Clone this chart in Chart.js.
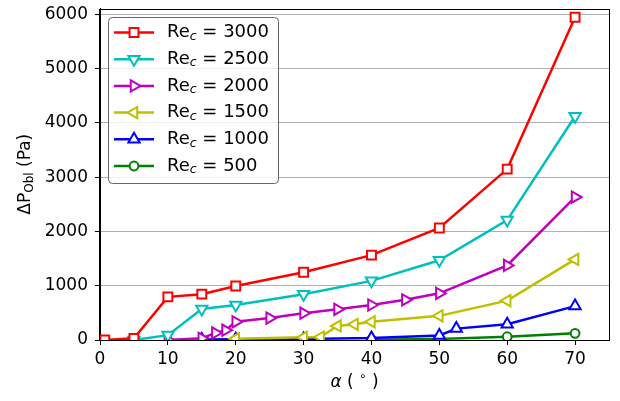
<!DOCTYPE html>
<html lang="en">
  <head>
    <meta charset="UTF-8" />
    <title>Pressure drop vs angle</title>
    <script src="https://cdn.jsdelivr.net/npm/chart.js"></script>
    <style>
      html, body { margin: 0; padding: 0; background: #fff; }
      #wrap { width: 620px; height: 401px; position: relative; }
    </style>
  </head>
  <body>
    <div id="wrap"><canvas id="dpChart"></canvas></div>
    <script>
      // values (alpha in degrees, dP in Pa)
      const alpha3000 = [0.7, 5, 10, 15, 20, 30, 40, 50, 60, 70];
      const dp3000 = [0, 30, 795, 845, 995, 1250, 1565, 2065, 3150, 5950];
      const alpha2500 = [5, 10, 15, 20, 30, 40, 50, 60, 70];
      const dp2500 = [0, 90, 570, 645, 845, 1090, 1470, 2210, 4125];
      const alpha2000 = [10, 15, 17, 18.5, 20, 25, 30, 35, 40, 45, 50, 60, 70];
      const dp2000 = [0, 30, 130, 180, 335, 405, 495, 565, 645, 740, 860, 1375, 2635];
      const alpha1500 = [20, 30, 32.5, 35, 37.5, 40, 50, 60, 70];
      const dp1500 = [25, 50, 55, 260, 290, 335, 445, 725, 1485];
      const alpha1000 = [15, 20, 30, 40, 50, 52.5, 60, 70];
      const dp1000 = [10, 15, 20, 35, 85, 210, 290, 625];
      const alpha500 = [40, 50, 60, 70];
      const dp500 = [5, 20, 60, 123];

      const reLabels = ["3000", "2500", "2000", "1500", "1000", "500"];
      const xTicks = [0, 10, 20, 30, 40, 50, 60, 70];
      const yTicks = [0, 1000, 2000, 3000, 4000, 5000, 6000];

      const FONT = "'DejaVu Sans', sans-serif";
      const colors = ["#ff0000", "#00bfbf", "#bf00bf", "#bfbf00", "#0000ff", "#008000"];
      const markers = [
        { style: "rect", rot: 0, r: 6.3 },
        { style: "triangle", rot: 180, r: 6.5 },
        { style: "triangle", rot: 90, r: 6.5 },
        { style: "triangle", rot: 270, r: 6.5 },
        { style: "triangle", rot: 0, r: 6.5 },
        { style: "circle", rot: 0, r: 4.4 },
      ];
      const xs = [alpha3000, alpha2500, alpha2000, alpha1500, alpha1000, alpha500];
      const ys = [dp3000, dp2500, dp2000, dp1500, dp1000, dp500];

      const datasets = reLabels.map((lab, i) => ({
        label: "Re_c = " + lab,
        data: xs[i].map((a, k) => ({ x: a, y: ys[i][k] })),
        borderColor: colors[i],
        borderWidth: 2.5,
        pointStyle: markers[i].style,
        pointRotation: markers[i].rot,
        pointRadius: markers[i].r,
        pointBorderWidth: 2,
        pointBackgroundColor: "#ffffff",
        pointBorderColor: colors[i],
        tension: 0,
        fill: false,
      }));

      function drawMarker(ctx, m, x, y, color) {
        ctx.beginPath();
        if (m.style === "rect") {
          const s = m.r * Math.SQRT1_2;
          ctx.rect(x - s, y - s, 2 * s, 2 * s);
        } else if (m.style === "circle") {
          ctx.arc(x, y, m.r, 0, Math.PI * 2);
        } else {
          let rad = (m.rot * Math.PI) / 180;
          for (let k = 0; k < 3; k++) {
            const px = x + Math.sin(rad) * m.r;
            const py = y - Math.cos(rad) * m.r;
            if (k === 0) ctx.moveTo(px, py);
            else ctx.lineTo(px, py);
            rad += (2 * Math.PI) / 3;
          }
        }
        ctx.closePath();
        ctx.fillStyle = "#fff";
        ctx.fill();
        ctx.lineWidth = 2;
        ctx.strokeStyle = color;
        ctx.stroke();
      }

      // draw runs of [text, font, dy] left to right
      function drawRuns(ctx, runs, x, y) {
        runs.forEach((r) => {
          ctx.font = r[1];
          ctx.fillText(r[0], x, y + (r[2] || 0));
          x += ctx.measureText(r[0]).width;
        });
        return x;
      }
      function runsWidth(ctx, runs) {
        let w = 0;
        runs.forEach((r) => {
          ctx.font = r[1];
          w += ctx.measureText(r[0]).width;
        });
        return w;
      }

      const extras = {
        id: "extras",
        afterDraw(chart) {
          const ctx = chart.ctx;
          const a = chart.chartArea;
          ctx.save();
          // axes frame
          ctx.strokeStyle = "#000";
          ctx.lineWidth = 1;
          const l = Math.round(a.left) - 0.5, t = Math.round(a.top) + 0.5;
          const r = Math.round(a.right) + 0.5, b = Math.round(a.bottom) + 0.5;
          ctx.strokeRect(l, t, r - l, b - t);

          // legend box
          ctx.beginPath();
          ctx.roundRect(108.5, 17.5, 170, 166, 4);
          ctx.fillStyle = "rgba(255,255,255,0.8)";
          ctx.fill();
          ctx.strokeStyle = "#666";
          ctx.stroke();
          ctx.textBaseline = "middle";
          reLabels.forEach((lab, i) => {
            const y = 32.5 + i * 26.7;
            ctx.beginPath();
            ctx.moveTo(114, y);
            ctx.lineTo(154, y);
            ctx.strokeStyle = colors[i];
            ctx.lineWidth = 2.5;
            ctx.stroke();
            drawMarker(ctx, markers[i], 134, y, colors[i]);
            ctx.fillStyle = "#000";
            drawRuns(ctx, [
              ["Re", "18px " + FONT],
              ["c", "italic 12.5px " + FONT, 4],
              [" = " + lab, "18px " + FONT],
            ], 167, y);
          });

          // x axis title
          ctx.fillStyle = "#000";
          const xr = [
            ["α", "italic 17px " + FONT],
            [" ( ", "17px " + FONT],
            ["∘", "12px " + FONT, -6],
            [" )", "17px " + FONT],
          ];
          drawRuns(ctx, xr, (a.left + a.right) / 2 - runsWidth(ctx, xr) / 2, 383);

          // y axis title
          const yr = [
            ["ΔP", "17px " + FONT],
            ["Obl", "12px " + FONT, 4],
            [" (Pa)", "17px " + FONT],
          ];
          ctx.translate(26, (a.top + a.bottom) / 2);
          ctx.rotate(-Math.PI / 2);
          drawRuns(ctx, yr, -runsWidth(ctx, yr) / 2, 0);
          ctx.restore();
        },
      };

      new Chart(document.getElementById("dpChart"), {
        type: "line",
        data: { datasets: datasets },
        options: {
          responsive: true,
          maintainAspectRatio: false,
          animation: false,
          layout: { padding: { left: 0, right: 11, top: 8, bottom: 0 } },
          plugins: { legend: { display: false }, tooltip: { enabled: false } },
          scales: {
            x: {
              type: "linear",
              min: 0,
              max: 75,
              afterBuildTicks: (s) => { s.ticks = xTicks.map((v) => ({ value: v })); },
              afterFit: (s) => { s.height = 61; s.paddingLeft = 0; s.paddingRight = 0; },
              grid: { drawOnChartArea: false, tickLength: 5, tickColor: "#000" },
              border: { color: "#000" },
              ticks: { color: "#000", padding: 4, maxRotation: 0, font: { family: FONT, size: 17 } },
            },
            y: {
              min: 0,
              max: 6110,
              afterBuildTicks: (s) => { s.ticks = yTicks.map((v) => ({ value: v })); },
              afterFit: (s) => { s.width = 100; s.paddingTop = 0; s.paddingBottom = 0; },
              grid: { color: "#b0b0b0", lineWidth: 1, tickLength: 5, tickColor: "#000" },
              border: { color: "#000" },
              ticks: {
                color: "#000",
                padding: 7,
                font: { family: FONT, size: 17 },
                callback: (v) => String(v),
              },
            },
          },
        },
        plugins: [extras],
      });
    </script>
  </body>
</html>
